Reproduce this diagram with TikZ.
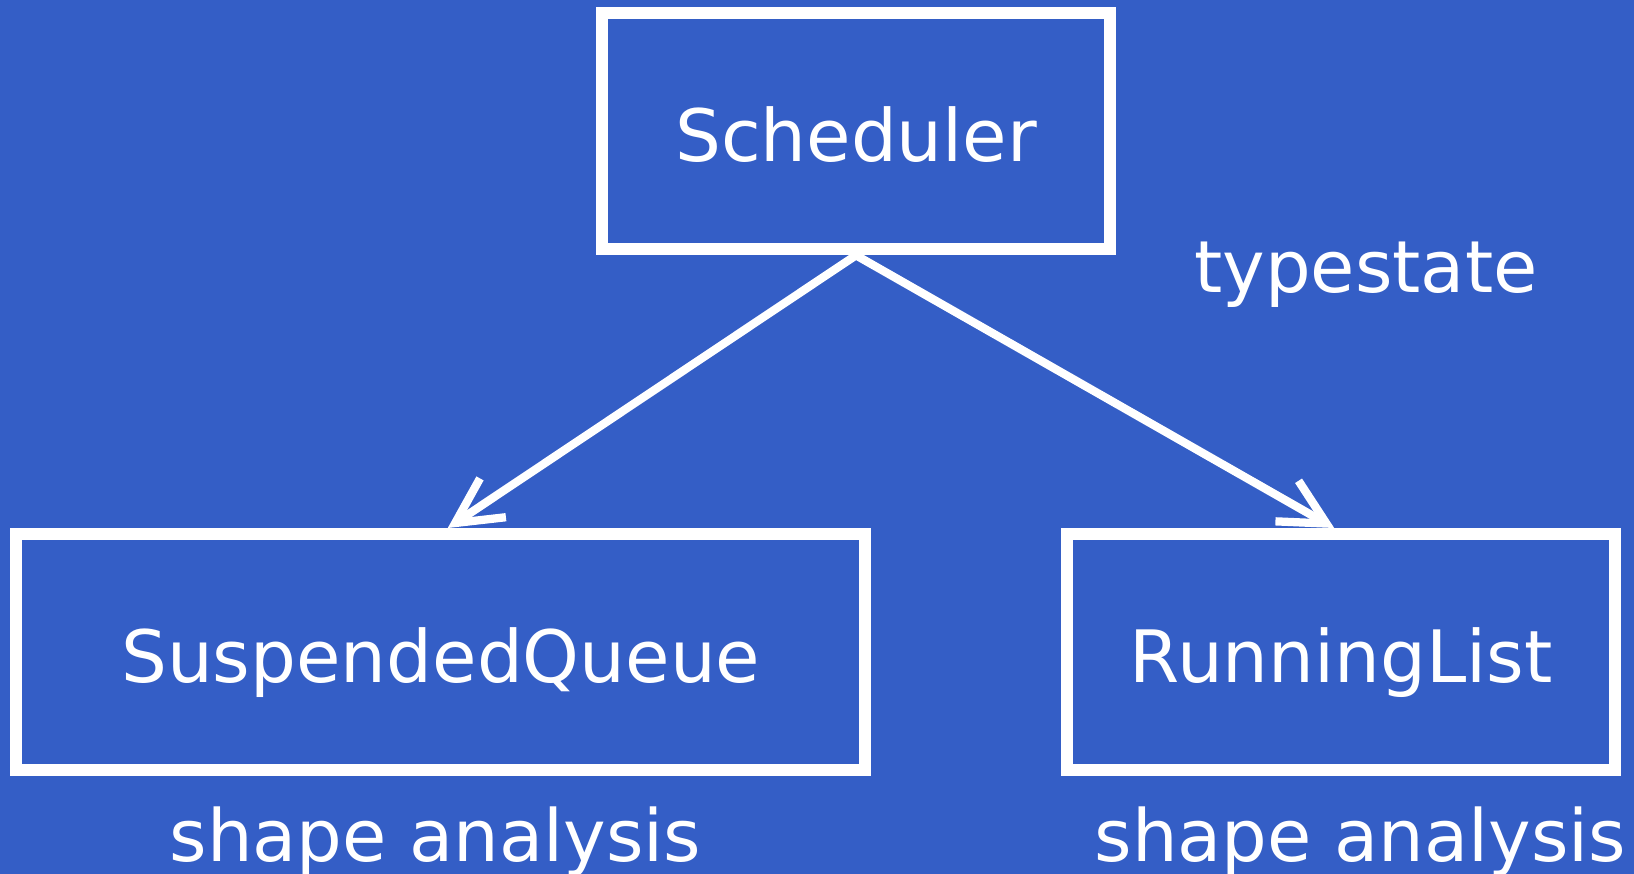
\documentclass[tikz,border=0pt]{standalone}
\usepackage{fontspec}
\setmainfont{DejaVu Sans}
\usetikzlibrary{arrows.meta,calc}
\definecolor{bgblue}{RGB}{52,94,198}
\tikzset{
  box/.style={draw=white, line width=9pt, rectangle, inner sep=0pt,
    minimum height=177pt, text=white, text height=46pt, text depth=0pt,
    font=\fontsize{54.2}{64}\selectfont},
  label/.style={text=white, inner sep=0pt, anchor=base,
    font=\fontsize{54}{64}\selectfont},
  link/.style={draw=white, line width=6.2pt,
    -{Straight Barb[length=34pt, width=35pt, line width=6.2pt]}}
}
\begin{document}
\begin{tikzpicture}[x=0.75pt, y=-0.75pt]
  % canvas
  \fill[bgblue] (0,0) rectangle (1634,874);
  \useasboundingbox (0,0) rectangle (1634,874);

  % boxes
  \node[box, minimum width=381pt] (sched) at (856,131.3) {Scheduler};
  \node[box, minimum width=636.4pt] (susp) at (440.75,652) {SuspendedQueue};
  \node[box, minimum width=411.2pt] (run) at (1341.2,652) {RunningList};

  % free labels
  \node[label] (ts) at (1366,292) {typestate};
  \node[label] (sa1) at (435.5,861) {shape analysis};
  \node[label] (sa2) at (1360.5,861) {shape analysis};

  % connectors
  \draw[link] (sched.south) -- ($(susp.north)+(7,0)$);
  \draw[link] (sched.south) -- ($(run.north)+(-7,0)$);
\end{tikzpicture}
\end{document}
